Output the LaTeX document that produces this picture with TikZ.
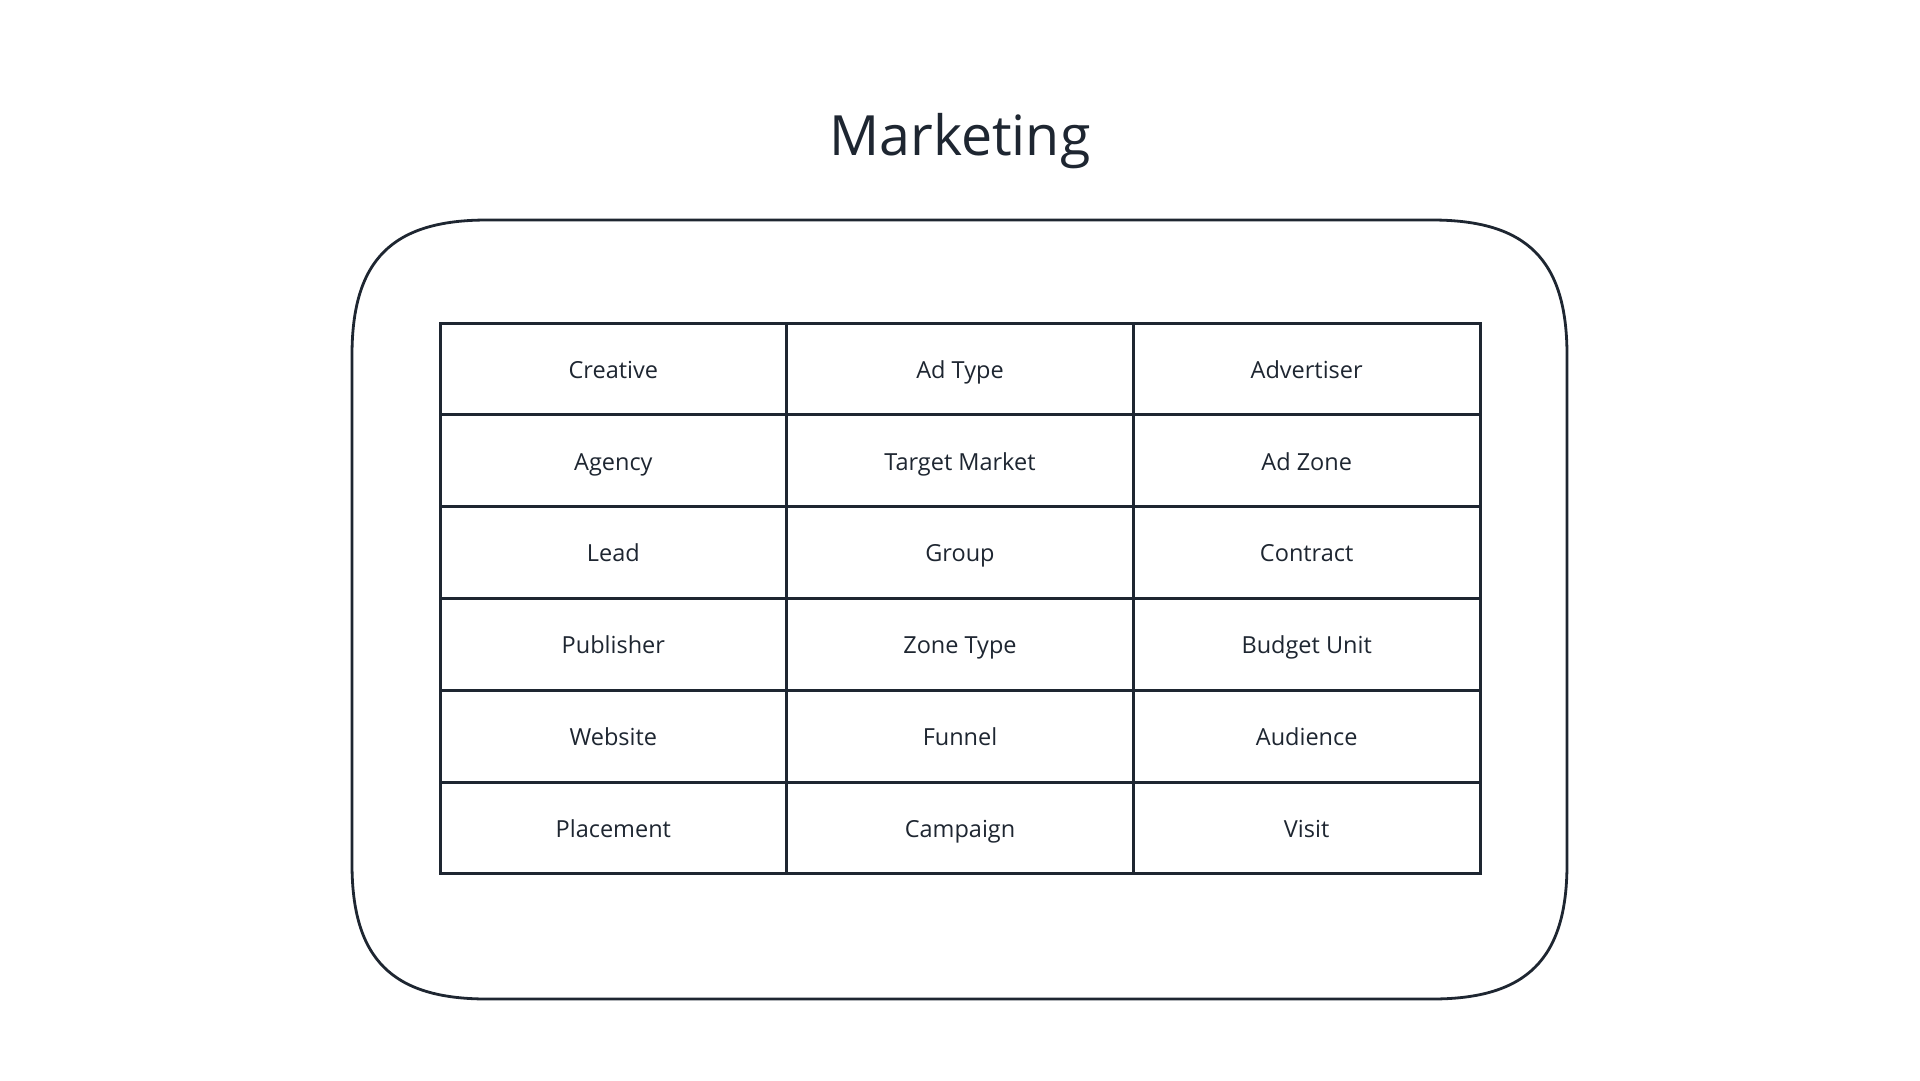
\documentclass[tikz,border=0pt]{standalone}
\usepackage{fontspec}
\setmainfont{Open Sans}
\definecolor{ink}{HTML}{1E2631}
\tikzset{
  cellbox/.style={draw=ink, line width=3pt, minimum width=346.67pt, minimum height=91.83pt,
    inner sep=0pt, text height=18.6pt, text depth=0pt, text=ink,
    font=\fontsize{23.5}{28}\selectfont},
  titletext/.style={text=ink, anchor=base, inner sep=0pt, font=\fontsize{55.5}{64}\selectfont},
  outerbox/.style={draw=ink, line width=2.8pt}
}
\begin{document}
\begin{tikzpicture}[x=1pt,y=-1pt]
\useasboundingbox (0,0) rectangle (1920,1080);
\fill[white] (0,0) rectangle (1920,1080);
\node[titletext] (title) at (960,155) {Marketing};
% outer squircle
\draw[outerbox] (352,355) .. controls (352,260) and (392,220) .. (487,220)
  -- (1432,220) .. controls (1527,220) and (1567,260) .. (1567,355)
  -- (1567,864) .. controls (1567,959) and (1527,999) .. (1432,999)
  -- (487,999) .. controls (392,999) and (352,959) .. (352,864) -- cycle;
\def\cw{346.67}
\def\rh{91.83}
\foreach \txt [count=\i from 0] in {Creative,Ad Type,Advertiser,Agency,Target Market,Ad Zone,Lead,Group,Contract,Publisher,Zone Type,Budget Unit,Website,Funnel,Audience,Placement,Campaign,Visit}{
  \pgfmathtruncatemacro{\r}{\i/3}
  \pgfmathtruncatemacro{\c}{\i-3*\r}
  \node[cellbox] (cell\i) at ({440+\cw*(\c+0.5)},{323+\rh*(\r+0.5)}) {\txt};
}
\end{tikzpicture}
\end{document}
